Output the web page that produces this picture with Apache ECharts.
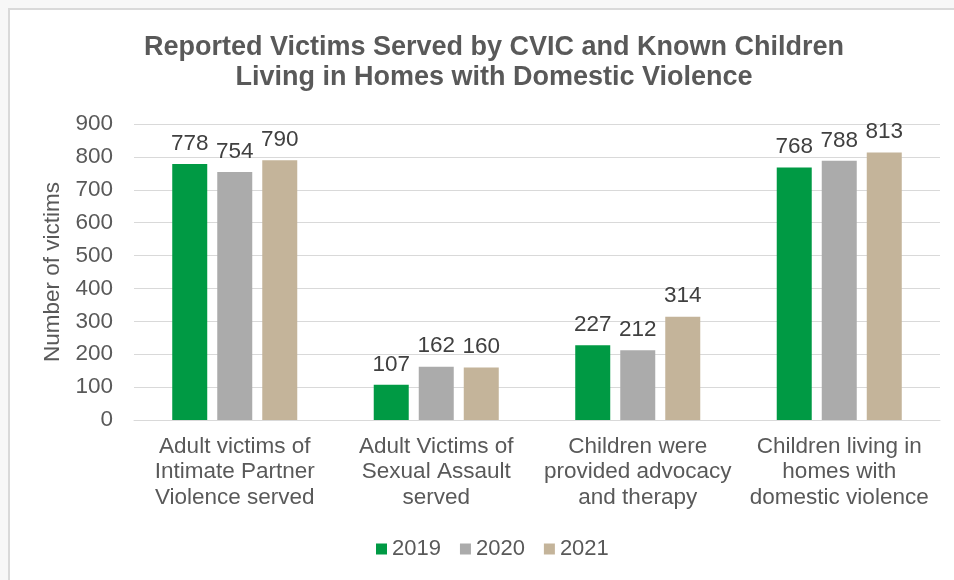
<!DOCTYPE html>
<html>
<head>
<meta charset="utf-8">
<script src="https://cdn.jsdelivr.net/npm/echarts@6/dist/echarts.min.js"></script>
<style>
  html, body { margin: 0; padding: 0; background: #f7f7f7; }
  #frame { position: absolute; left: 8px; top: 8px; width: 946px; height: 572px; background: #ffffff;
           border-top: 2px solid #d9d9d9; border-left: 2px solid #d9d9d9; box-sizing: border-box; }
  #chart { position: absolute; left: 0; top: 0; width: 954px; height: 580px; }
</style>
</head>
<body>
<div id="frame"></div>
<div id="chart"></div>
<script>
const categories = [
  "Adult victims of\nIntimate Partner\nViolence served",
  "Adult Victims of\nSexual Assault\nserved",
  "Children were\nprovided advocacy\nand therapy",
  "Children living in\nhomes with\ndomestic violence"
];
const seriesNames = ["2019", "2020", "2021"];
const values2019 = [778, 107, 227, 768];
const values2020 = [754, 162, 212, 788];
const values2021 = [790, 160, 314, 813];
const colors = ["#009a44", "#ababab", "#c4b49a"];

const FONT = "Liberation Sans, Arial, sans-serif";
const FS = 22.5;
const chart = echarts.init(document.getElementById('chart'), null, { renderer: 'canvas' });

function mk(name, data, color) {
  return {
    name: name, type: 'bar', data: data, barWidth: 35, barGap: '28.6%',
    itemStyle: { color: color },
    label: { show: true, position: 'top', distance: 9, color: '#404040', fontSize: FS, fontFamily: FONT }
  };
}

chart.setOption({
  backgroundColor: 'transparent',
  animation: false,
  title: {
    text: "Reported Victims Served by CVIC and Known Children\nLiving in Homes with Domestic Violence",
    left: 489, top: 28, textAlign: 'center',
    textStyle: { color: '#595959', fontSize: 27, fontWeight: 'bold', fontFamily: FONT, lineHeight: 30 }
  },
  legend: {
    top: 538, left: 376, padding: 0,
    itemWidth: 11, itemHeight: 11, itemGap: 19,
    icon: 'rect',
    textStyle: { color: '#595959', fontSize: 22, fontFamily: FONT, padding: [0, 0, 0, 0] },
    data: seriesNames
  },
  grid: { left: 134, right: 14, top: 124, bottom: 160, containLabel: false },
  xAxis: {
    type: 'category', data: categories,
    axisLine: { lineStyle: { color: '#d9d9d9', width: 1 } },
    axisTick: { show: false },
    axisLabel: { color: '#595959', fontSize: FS, fontFamily: FONT, lineHeight: 25.5, margin: 14, interval: 0 }
  },
  yAxis: {
    type: 'value', min: 0, max: 900, interval: 100,
    name: 'Number of victims', nameLocation: 'middle', nameGap: 67, nameRotate: 90,
    nameTextStyle: { color: '#595959', fontSize: FS, fontFamily: FONT },
    axisLine: { show: false }, axisTick: { show: false },
    axisLabel: { color: '#595959', fontSize: FS, fontFamily: FONT, margin: 21 },
    splitLine: { lineStyle: { color: '#d9d9d9', width: 1 } }
  },
  series: [
    mk(seriesNames[0], values2019, colors[0]),
    mk(seriesNames[1], values2020, colors[1]),
    mk(seriesNames[2], values2021, colors[2])
  ]
});
</script>
</body>
</html>
